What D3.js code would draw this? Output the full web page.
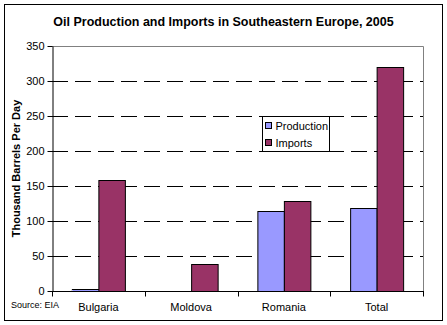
<!DOCTYPE html>
<html>
<head>
<meta charset="utf-8">
<script src="https://cdn.jsdelivr.net/npm/d3@7"></script>
<style>
  html, body { margin: 0; padding: 0; background: #fff; }
  svg { display: block; font-family: "Liberation Sans", Arial, sans-serif; }
</style>
</head>
<body>
<svg id="chart" width="447" height="325"></svg>
<script>
// Oil production and imports, thousand barrels per day (2005)
const categories = ["Bulgaria", "Moldova", "Romania", "Total"];
const seriesNames = ["Production", "Imports"];
const production = [3, 0, 115, 119];
const imports = [158, 39, 128, 320];
const yTicks = [0, 50, 100, 150, 200, 250, 300, 350];
const colors = ["#9999FF", "#993366"];

const svg = d3.select("#chart");
const W = 447, H = 325;
const plot = { left: 52, right: 423, top: 46, bottom: 291 };

// outer frame
svg.append("rect")
  .attr("x", 4.5).attr("y", 4.5)
  .attr("width", 438).attr("height", 316)
  .attr("fill", "#fff").attr("stroke", "#000").attr("stroke-width", 1);

// title
svg.append("text")
  .attr("x", 223.5).attr("y", 26)
  .attr("text-anchor", "middle")
  .attr("font-size", 12.5).attr("font-weight", "bold")
  .text("Oil Production and Imports in Southeastern Europe, 2005");

const x0 = d3.scaleBand().domain(categories).range([plot.left, plot.right]).padding(0);
const x1 = d3.scaleBand().domain(seriesNames).range([0, x0.bandwidth()])
  .paddingInner(0).paddingOuter(0.75);
const y = d3.scaleLinear().domain([0, 350]).range([plot.bottom, plot.top]);

// dashed gridlines
svg.append("g").selectAll("line")
  .data(yTicks.filter(v => v > 0 && v < 350))
  .join("line")
  .attr("x1", plot.left).attr("x2", plot.right)
  .attr("y1", d => Math.round(y(d)) + 0.5).attr("y2", d => Math.round(y(d)) + 0.5)
  .attr("stroke", "#000").attr("stroke-dasharray", "16,7");

// plot area top and right border
svg.append("path")
  .attr("d", `M${plot.left},${plot.top + 0.5}H${plot.right + 0.5}V${plot.bottom}`)
  .attr("fill", "none").attr("stroke", "#808080");

// bars
const rows = categories.map((c, i) => ({ cat: c, values: [production[i], imports[i]] }));
svg.append("g").selectAll("g")
  .data(rows)
  .join("g")
  .attr("transform", d => `translate(${x0(d.cat)},0)`)
  .selectAll("rect")
  .data(d => d.values.map((v, j) => ({ key: seriesNames[j], v, j })).filter(e => e.v > 0))
  .join("rect")
  .attr("x", d => x1(d.key) + 0.5)
  .attr("y", d => Math.round(y(d.v)) + 0.5)
  .attr("width", x1.bandwidth())
  .attr("height", d => Math.round(y(0)) - Math.round(y(d.v)))
  .attr("fill", d => colors[d.j])
  .attr("stroke", "#000").attr("stroke-width", 1);

// y axis
const yAxis = svg.append("g")
  .attr("transform", `translate(${plot.left + 0.5},0)`)
  .call(d3.axisLeft(y).tickValues(yTicks).tickSize(5).tickPadding(3).tickSizeOuter(0));
yAxis.selectAll("text").attr("font-size", 11).attr("font-family", "Liberation Sans, Arial, sans-serif").attr("fill", "#000");
yAxis.selectAll("line, path").attr("stroke", "#000");

// x axis: baseline, boundary ticks and category labels
const bounds = categories.map(c => x0(c)).concat([plot.right]);
const xg = svg.append("g").attr("transform", `translate(0,${plot.bottom + 0.5})`);
xg.append("line").attr("x1", plot.left).attr("x2", plot.right + 1).attr("stroke", "#000");
xg.selectAll("line.tick").data(bounds).join("line").attr("class", "tick")
  .attr("x1", d => Math.round(d) + 0.5).attr("x2", d => Math.round(d) + 0.5)
  .attr("y1", 0).attr("y2", 5).attr("stroke", "#000");
xg.selectAll("text").data(categories).join("text")
  .attr("x", d => x0(d) + x0.bandwidth() / 2)
  .attr("y", 19)
  .attr("text-anchor", "middle").attr("font-size", 11)
  .text(d => d);

// y axis title
svg.append("text")
  .attr("transform", `translate(20,${(plot.top + plot.bottom) / 2}) rotate(-90)`)
  .attr("text-anchor", "middle")
  .attr("font-size", 11).attr("font-weight", "bold")
  .text("Thousand Barrels Per Day");

// source note
svg.append("text")
  .attr("x", 11).attr("y", 308)
  .attr("font-size", 9)
  .text("Source: EIA");

// legend
const lg = svg.append("g").attr("transform", "translate(262.5,116.5)");
lg.append("rect").attr("width", 67).attr("height", 35)
  .attr("fill", "#fff").attr("stroke", "#000");
const items = lg.selectAll("g").data(seriesNames).join("g")
  .attr("transform", (d, i) => `translate(3,${6 + i * 17})`);
items.append("rect").attr("width", 6).attr("height", 6)
  .attr("fill", (d, i) => colors[i]).attr("stroke", "#000");
items.append("text").attr("x", 10).attr("y", 7.5)
  .attr("font-size", 11).text(d => d);
</script>
</body>
</html>
